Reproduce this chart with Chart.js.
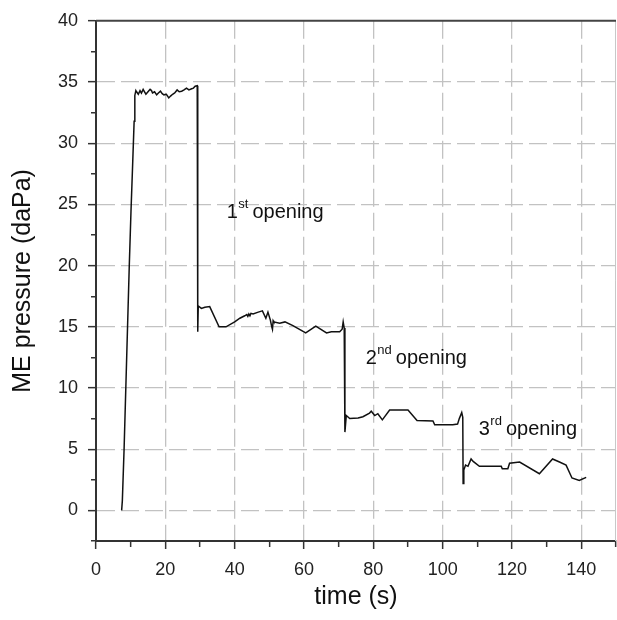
<!DOCTYPE html>
<html>
<head>
<meta charset="utf-8">
<script src="https://cdn.jsdelivr.net/npm/chart.js@4/dist/chart.umd.min.js"></script>
<style>
  body { margin: 0; background: #fff; }
  #wrap { width: 617px; height: 620px; }
</style>
</head>
<body>
<div id="wrap"><canvas id="pressureChart"></canvas></div>
<script>
// time (s) and ME pressure (daPa)
const timeS = [
  7.4, 7.6, 8.1, 8.6, 9.1, 9.6, 10.1, 10.6, 11.0, 11.2, 11.5,
  11.7, 12.2, 12.7, 13.1, 13.6, 14.0, 14.4, 15.0, 15.6, 16.0, 16.3, 16.9,
  17.5, 18.0, 18.6, 19.1, 19.6, 20.3, 21.0, 21.5, 22.1, 22.7, 23.4, 24.0,
  24.7, 25.4, 26.1, 26.8, 27.6, 28.1, 28.6, 29.2,
  29.35, 29.5, 30.4, 31.4, 32.8, 35.5, 37.5, 40.0, 41.5, 42.9, 43.5, 43.8,
  44.1, 44.4, 44.7, 45.3, 46.8, 48.0, 49.0, 49.6, 50.3, 50.7, 50.9, 51.1,
  51.3, 53.0, 54.5, 56.8, 60.5, 63.4, 66.5, 67.9, 70.3, 71.0, 71.3, 71.6,
  71.8, 72.2, 73.2, 75.6, 77.0, 78.9, 79.4, 80.4, 81.3, 82.6, 84.7, 90.0,
  92.6, 97.2, 97.7, 102.9, 104.3, 104.8, 105.5, 105.8,
  105.9, 106.1, 106.6, 107.3, 108.2, 108.8, 110.6, 116.9, 117.2, 118.8,
  119.3, 122.2, 127.9, 131.7, 133.7, 135.6, 137.3, 139.4, 141.4
];
const pressure = [
  0, 0.8, 5, 10, 15, 20, 24.5, 28.5, 31.8, 33.9, 34.3,
  34.2, 34.0, 34.3, 34.1, 34.4, 34.2, 34.0, 34.2, 34.4, 34.3, 34.1, 34.2,
  33.95, 34.1, 34.25, 34.05, 33.95, 34.0, 33.7, 33.85, 34.0, 34.1, 34.35, 34.2,
  34.25, 34.35, 34.5, 34.35, 34.45, 34.5, 34.65, 34.7,
  14.6, 16.7, 16.5, 16.6, 16.65, 15.0, 15.0, 15.4, 15.7, 15.9, 16.0, 15.85,
  16.05, 15.9, 16.1, 16.05, 16.2, 16.3, 15.7, 16.2, 15.55, 15.0, 14.8, 15.5,
  15.4, 15.3, 15.4, 15.1, 14.5, 15.05, 14.5, 14.6, 14.6, 14.8, 15.4, 14.9,
  6.4, 7.75, 7.5, 7.55, 7.65, 7.95, 8.1, 7.75, 7.9, 7.4, 8.2, 8.2,
  7.35, 7.3, 7.0, 7.0, 7.05, 7.5, 8.0, 7.6,
  2.2, 3.3, 3.7, 3.6, 4.2, 4.0, 3.6, 3.6, 3.4, 3.4,
  3.85, 3.95, 3.0, 4.2, 3.95, 3.7, 2.65, 2.45, 2.7
];

// annotations: ordinal, suffix, position (data units, left / baseline)
const noteNums = ['1', '2', '3'];
const noteSups = ['st', 'nd', 'rd'];
const noteX = [37.7, 77.8, 110.4];
const noteY = [23.9, 12.0, 6.2];

const xMin = 0, xMax = 150, xStep = 10;
const yMin = -2.5, yMax = 40, yStep = 2.5;

const FONT = '"Liberation Sans", Arial, sans-serif';
const isMajor = (v, step) => Math.abs(v / step - Math.round(v / step)) < 1e-6;

const frameAndNotes = {
  id: 'frameAndNotes',
  afterDraw(chart) {
    const { ctx, chartArea: a, scales } = chart;
    ctx.save();
    // right border (light) and top border (dark)
    ctx.strokeStyle = '#c8c8c8';
    ctx.lineWidth = 1;
    ctx.beginPath();
    ctx.moveTo(a.right - 0.5, a.top);
    ctx.lineTo(a.right - 0.5, a.bottom);
    ctx.stroke();
    ctx.strokeStyle = '#444';
    ctx.lineWidth = 2;
    ctx.beginPath();
    ctx.moveTo(a.left, a.top);
    ctx.lineTo(a.right, a.top);
    ctx.stroke();

    ctx.fillStyle = '#111';
    ctx.textBaseline = 'alphabetic';
    ctx.textAlign = 'left';
    noteNums.forEach((n, i) => {
      let px = scales.x.getPixelForValue(noteX[i]);
      const py = scales.y.getPixelForValue(noteY[i]);
      ctx.font = '20px ' + FONT;
      ctx.fillText(n, px, py);
      px += ctx.measureText(n).width + 0.5;
      ctx.font = '13px ' + FONT;
      ctx.fillText(noteSups[i], px, py - 10);
      px += ctx.measureText(noteSups[i]).width + 4;
      ctx.font = '20px ' + FONT;
      ctx.fillText('opening', px, py);
    });
    ctx.restore();
  }
};

const points = timeS.map((t, i) => ({ x: t, y: pressure[i] }));

new Chart(document.getElementById('pressureChart'), {
  type: 'line',
  data: {
    datasets: [{
      data: points,
      borderColor: '#111',
      borderWidth: 1.5,
      pointRadius: 0,
      tension: 0,
      fill: false
    }]
  },
  options: {
    responsive: true,
    maintainAspectRatio: false,
    animation: false,
    layout: { padding: { top: 20, right: 1, left: 0, bottom: 0 } },
    plugins: { legend: { display: false }, tooltip: { enabled: false } },
    scales: {
      x: {
        type: 'linear',
        min: xMin,
        max: xMax,
        afterFit: (s) => { s.height = 79; s.paddingRight = 0; s.paddingLeft = 0; },
        ticks: {
          stepSize: xStep,
          autoSkip: false,
          maxRotation: 0,
          padding: 10,
          color: '#222',
          font: { family: FONT, size: 18 },
          callback: (v) => (isMajor(v, 20) && v < xMax ? String(v) : '')
        },
        grid: {
          lineWidth: 1.3,
          tickLength: 8,
          tickWidth: 1.5,
          tickColor: '#333',
          tickBorderDash: (c) => (isMajor(c.tick.value, 20) ? [] : [5, 20]),
          color: (c) => {
            const v = c.tick ? c.tick.value : 0;
            return isMajor(v, 20) && v > xMin && v < xMax ? '#c2c2c2' : 'rgba(0,0,0,0)';
          }
        },
        border: { color: '#333', width: 2, dash: [18, 6], dashOffset: 0 },
        title: {
          display: true,
          text: 'time (s)',
          color: '#111',
          font: { family: FONT, size: 25 },
          padding: { top: 0, bottom: 8 }
        }
      },
      y: {
        type: 'linear',
        min: yMin,
        max: yMax,
        afterFit: (s) => { s.width = 96; },
        ticks: {
          stepSize: yStep,
          autoSkip: false,
          padding: 10,
          color: '#222',
          font: { family: FONT, size: 18 },
          callback: (v) => (isMajor(v, 5) && v >= 0 ? String(v) : '')
        },
        grid: {
          lineWidth: 1.3,
          tickLength: 8,
          tickWidth: 1.5,
          tickColor: '#333',
          tickBorderDash: (c) => (isMajor(c.tick.value, 5) ? [] : [0, 3, 5, 20]),
          color: (c) => {
            const v = c.tick ? c.tick.value : 0;
            return isMajor(v, 5) && v > yMin && v < yMax ? '#c2c2c2' : 'rgba(0,0,0,0)';
          }
        },
        border: { color: '#333', width: 2, dash: [18, 6], dashOffset: 0 },
        title: {
          display: true,
          text: 'ME pressure (daPa)',
          color: '#111',
          font: { family: FONT, size: 25 },
          padding: { top: 8, bottom: 0 }
        }
      }
    }
  },
  plugins: [frameAndNotes]
});
</script>
</body>
</html>
